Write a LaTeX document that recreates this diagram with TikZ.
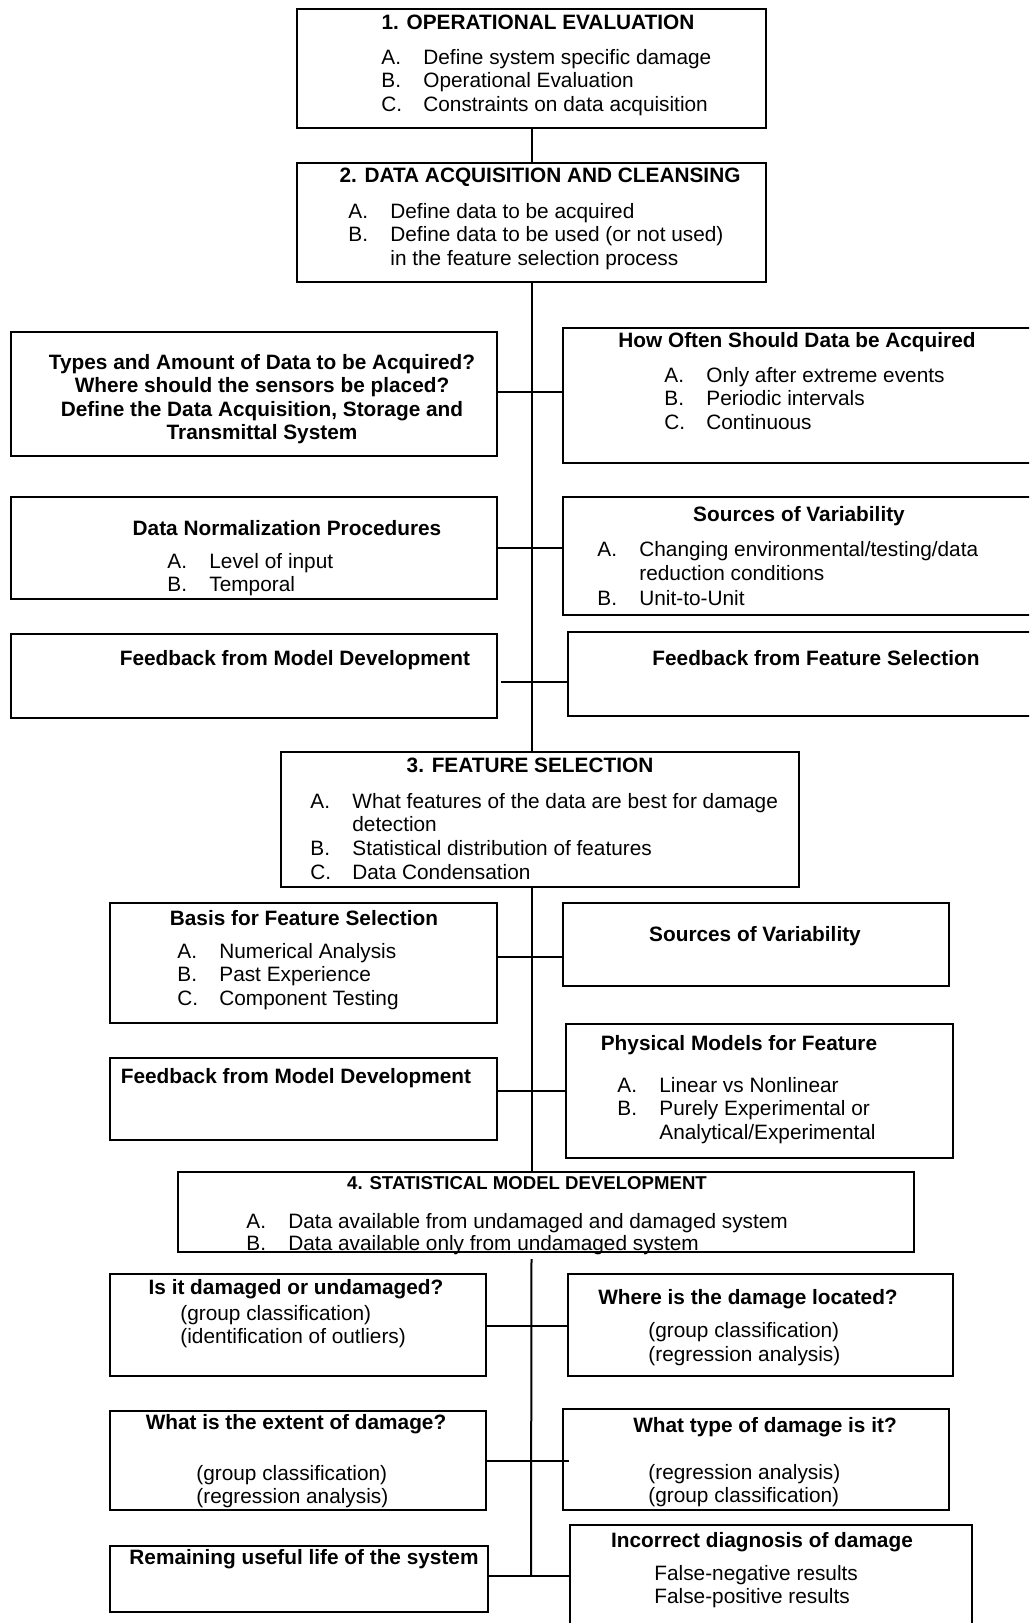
\documentclass[tikz,border=0pt]{standalone}
\usepackage{fontspec}
\setmainfont{Liberation Sans}
\usetikzlibrary{fit}
\newcommand{\lst}[1]{{\begin{tabular}[t]{@{}p{21pt}@{}l@{}}#1\end{tabular}}}
\newcommand{\ctr}[1]{{\begin{tabular}[t]{@{}c@{}}#1\end{tabular}}}
\newcommand{\lft}[1]{{\begin{tabular}[t]{@{}l@{}}#1\end{tabular}}}
\begin{document}
\begin{tikzpicture}[x=0.5pt,y=-0.5pt,
  box/.style={draw, line width=1pt, inner sep=0pt},
  txt/.style={inner sep=0pt, font=\fontsize{10.4}{11.75}\selectfont},
  ttl/.style={inner sep=0pt, font=\fontsize{10.4}{11.75}\selectfont\bfseries, anchor=base},
  lt/.style={txt, anchor=base west},
  link/.style={line width=1pt}]
\useasboundingbox (0,0) rectangle (1029,1623);
\clip (0,0) rectangle (1029,1623);
% ---------- boxes ----------
\node[box, fit={(297,9) (766,128)}] (b1) {};
\node[box, fit={(297,163) (766,282)}] (b2) {};
\node[box, fit={(11,332) (497,456)}] (tq) {};
\node[box, fit={(563,328) (1040,463)}] (ho) {};
\node[box, fit={(11,497) (497,599)}] (dn) {};
\node[box, fit={(563,497) (1040,615)}] (sv) {};
\node[box, fit={(11,634) (497,718)}] (fm1) {};
\node[box, fit={(568,632) (1040,716)}] (ff) {};
\node[box, fit={(281,752) (799,887)}] (b3) {};
\node[box, fit={(110,903) (497,1023)}] (bf) {};
\node[box, fit={(563,903) (949,986)}] (sv2) {};
\node[box, fit={(110,1058) (497,1140)}] (fm2) {};
\node[box, fit={(566,1024) (953,1158)}] (pm) {};
\node[box, fit={(178,1172) (914,1252)}] (b4) {};
\node[box, fit={(110,1274) (486,1376)}] (dq) {};
\node[box, fit={(568,1274) (953,1376)}] (lq) {};
\node[box, fit={(110,1411) (486,1510)}] (eq) {};
\node[box, fit={(563,1409) (949,1510)}] (tyq) {};
\node[box, fit={(110,1546) (488,1612)}] (rl) {};
\node[box, fit={(570,1525) (972,1650)}] (idg) {};
% ---------- texts ----------
\node[ttl] (b1t) at (538,29) {1. OPERATIONAL EVALUATION};
\node[lt] (b1l) at (381,64) {\lst{A. & Define system specific damage\\ B. & Operational Evaluation\\ C. & Constraints on data acquisition}};
\node[ttl] (b2t) at (540,182) {2. DATA ACQUISITION AND CLEANSING};
\node[lt] (b2l) at (348,218) {\lst{A. & Define data to be acquired\\ B. & Define data to be used (or not used)\\ & in the feature selection process}};
\node[ttl] (tqt) at (262,369) {\ctr{Types and Amount of Data to be Acquired?\\ Where should the sensors be placed?\\ Define the Data Acquisition, Storage and\\ Transmittal System}};
\node[ttl] (hot) at (797,347) {How Often Should Data be Acquired};
\node[lt] (hol) at (664,382) {\lst{A. & Only after extreme events\\ B. & Periodic intervals\\ C. & Continuous}};
\node[ttl] (dnt) at (287,535) {Data Normalization Procedures};
\node[lt] (dnl) at (167,568) {\lst{A. & Level of input\\ B. & Temporal}};
\node[ttl] (svt) at (799,521) {Sources of Variability};
\node[lt] (svl) at (597,556) {\lst{A. & Changing environmental/testing/data\\[0.5pt] & reduction conditions\\[0.5pt] B. & Unit-to-Unit}};
\node[ttl] (fm1t) at (295,665) {Feedback from Model Development};
\node[ttl] (fft) at (816,665) {Feedback from Feature Selection};
\node[ttl] (b3t) at (530,772) {3. FEATURE SELECTION};
\node[lt] (b3l) at (310,808) {\lst{A. & What features of the data are best for damage\\ & detection\\[0.3pt] B. & Statistical distribution of features\\[0.3pt] C. & Data Condensation}};
\node[ttl] (bft) at (304,925) {Basis for Feature Selection};
\node[lt] (bfl) at (177,958) {\lst{A. & Numerical Analysis\\ B. & Past Experience\\ C. & Component Testing}};
\node[ttl] (sv2t) at (755,941) {Sources of Variability};
\node[ttl] (fm2t) at (296,1083) {Feedback from Model Development};
\node[ttl] (pmt) at (739,1050) {Physical Models for Feature};
\node[lt] (pml) at (617,1092) {\lst{A. & Linear vs Nonlinear\\ B. & Purely Experimental or\\ & Analytical/Experimental}};
\node[ttl, font=\fontsize{9.3}{11}\selectfont\bfseries] (b4t) at (527,1189) {4. STATISTICAL MODEL DEVELOPMENT};
\node[lt] (b4l) at (246,1228) {\lst{A. & Data available from undamaged and damaged system\\[-0.75pt] B. & Data available only from undamaged system}};
\node[ttl] (dqt) at (296,1294) {Is it damaged or undamaged?};
\node[lt] (dql) at (180,1320) {\lft{(group classification)\\ (identification of outliers)}};
\node[ttl] (lqt) at (748,1304) {Where is the damage located?};
\node[lt] (lql) at (648,1337) {\lft{(group classification)\\[0.5pt] (regression analysis)}};
\node[ttl] (eqt) at (296,1429) {What is the extent of damage?};
\node[lt] (eql) at (196,1480) {\lft{(group classification)\\ (regression analysis)}};
\node[ttl] (tyqt) at (765,1432) {What type of damage is it?};
\node[lt] (tyql) at (648,1479) {\lft{(regression analysis)\\ (group classification)}};
\node[ttl] (rlt) at (304,1564) {Remaining useful life of the system};
\node[ttl] (idt) at (762,1547) {Incorrect diagnosis of damage};
\node[lt] (idl) at (654,1580) {\lft{False-negative results\\ False-positive results}};
% ---------- spine coordinates ----------
\coordinate (c1) at (531,392);
\coordinate (c2) at (531,548);
\coordinate (c3) at (531,682);
\coordinate (c4) at (531,957);
\coordinate (c5) at (531,1091);
\coordinate (c6) at (531,1326);
\coordinate (c7) at (531,1461);
\coordinate (cend) at (531,1576);
% ---------- connectors ----------
\draw[link] (b1.south) -- (b2.north);
\draw[link] (b2.south) -- (b2.south |- b3.north);
\draw[link] (b2.south |- b3.south) -- (b2.south |- b4.north);
\draw[link] ([yshift=-3pt]b2.south |- b4.south) -- (cend);
\draw[link] (tq.east |- c1) -- (ho.west |- c1);
\draw[link] (dn.east |- c2) -- (sv.west |- c2);
\draw[link] ([xshift=1.5pt]fm1.east |- c3) -- (ff.west |- c3);
\draw[link] (bf.east |- c4) -- (sv2.west |- c4);
\draw[link] (fm2.east |- c5) -- (pm.west |- c5);
\draw[link] (dq.east |- c6) -- (lq.west |- c6);
\draw[link] (eq.east |- c7) -- ([xshift=3.5pt]tyq.west |- c7);
\draw[link] (rl.east |- cend) -- (idg.west |- cend);
\end{tikzpicture}
\end{document}
